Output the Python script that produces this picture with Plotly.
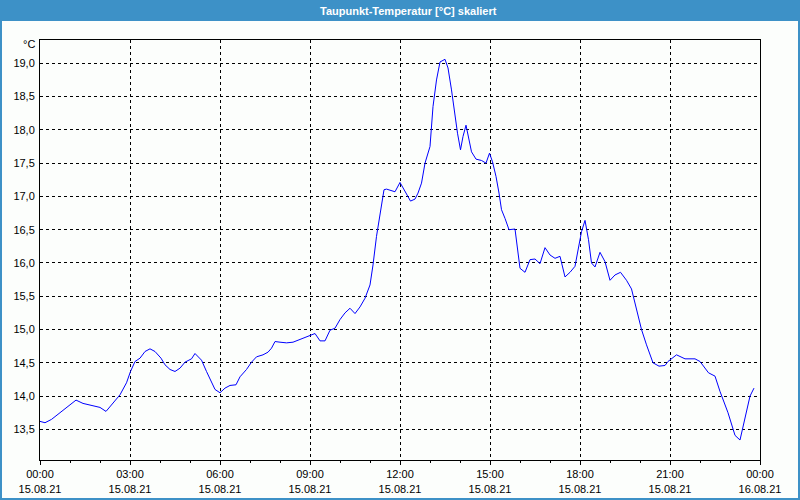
import plotly.graph_objects as go

# ---- data ----
day = "2021-08-15"
times = ["00:00","00:10","00:23","00:36","00:49","01:00","01:12","01:26","01:42","02:00",
         "02:12","02:23","02:40","02:53","03:01","03:10","03:20","03:30","03:40","03:50",
         "04:02","04:10","04:20","04:30","04:40","04:50","05:03","05:10","05:23","05:33",
         "05:40","05:50","06:00","06:10","06:20","06:32","06:40","06:53","07:03","07:13",
         "07:26","07:36","07:43","07:50","08:00","08:13","08:26","08:40","08:53","09:10",
         "09:20","09:30","09:40","09:50","10:00","10:10","10:20","10:30","10:40","10:50",
         "11:00","11:06","11:13","11:20","11:28","11:33","11:40","11:50","12:00","12:10",
         "12:21","12:30","12:36","12:43","12:50","13:00","13:06","13:13","13:20","13:30",
         "13:36","13:43","13:50","13:55","14:01","14:06","14:12","14:17","14:23","14:32",
         "14:43","14:52","14:59","15:05","15:12","15:18","15:23","15:30","15:38","15:50",
         "15:55","16:00","16:10","16:20","16:30","16:40","16:50","17:00","17:10","17:20",
         "17:30","17:40","17:50","17:56","18:03","18:10","18:17","18:23","18:30","18:40",
         "18:50","19:00","19:10","19:21","19:33","19:43","19:53","20:03","20:13","20:26",
         "20:38","20:50","20:56","21:13","21:30","21:50","22:00","22:17","22:30","22:40",
         "22:56","23:10","23:20","23:30","23:40","23:48"]
values = [13.62,13.60,13.65,13.73,13.80,13.88,13.94,13.89,13.86,13.83,
          13.77,13.87,14.02,14.20,14.37,14.52,14.57,14.67,14.71,14.67,
          14.57,14.47,14.40,14.37,14.42,14.51,14.56,14.64,14.54,14.37,
          14.25,14.10,14.05,14.12,14.16,14.17,14.29,14.40,14.51,14.59,
          14.62,14.66,14.72,14.82,14.81,14.80,14.81,14.85,14.88,14.94,
          14.83,14.83,14.99,15.02,15.15,15.25,15.32,15.24,15.34,15.47,
          15.67,15.97,16.40,16.75,17.10,17.11,17.09,17.07,17.21,17.07,
          16.93,16.96,17.05,17.20,17.50,17.75,18.35,18.75,19.02,19.06,
          18.93,18.60,18.20,17.95,17.70,17.90,18.07,17.90,17.67,17.56,
          17.54,17.50,17.65,17.52,17.30,17.05,16.80,16.67,16.50,16.51,
          16.25,15.92,15.86,16.05,16.06,15.99,16.23,16.12,16.07,16.10,
          15.79,15.86,15.95,16.20,16.47,16.64,16.35,16.00,15.94,16.16,
          16.02,15.74,15.82,15.86,15.74,15.61,15.30,15.00,14.77,14.50,
          14.45,14.46,14.52,14.62,14.56,14.56,14.52,14.35,14.30,14.07,
          13.75,13.41,13.34,13.65,14.00,14.12]

x_tick_vals = ["2021-08-15 00:00","2021-08-15 03:00","2021-08-15 06:00","2021-08-15 09:00",
               "2021-08-15 12:00","2021-08-15 15:00","2021-08-15 18:00","2021-08-15 21:00",
               "2021-08-16 00:00"]
x_tick_text = ["00:00<br>15.08.21","03:00<br>15.08.21","06:00<br>15.08.21","09:00<br>15.08.21",
               "12:00<br>15.08.21","15:00<br>15.08.21","18:00<br>15.08.21","21:00<br>15.08.21",
               "00:00<br>16.08.21"]
y_tick_vals = [13.5,14.0,14.5,15.0,15.5,16.0,16.5,17.0,17.5,18.0,18.5,19.0]
y_tick_text = ["13,5","14,0","14,5","15,0","15,5","16,0","16,5","17,0","17,5","18,0","18,5","19,0"]

title_text = "Taupunkt-Temperatur [°C] skaliert"
unit_text = "°C"

# ---- figure ----
x = [f"{day} {t}" for t in times]

W, H = 800, 500
L, R, T, B = 40, 40, 40, 40
pw, ph = W - L - R, H - T - B

def px_x(p):
    return (p - L) / pw

def px_y(p):
    return 1 - (p - T) / ph

BLUE = "#3d91c7"
FONT = "Liberation Sans"

fig = go.Figure()
fig.add_trace(go.Scatter(x=x, y=values, mode="lines",
                         line=dict(color="#0000ff", width=1), hoverinfo="x+y"))

fig.update_layout(
    width=W, height=H,
    margin=dict(l=L, r=R, t=T, b=B, autoexpand=False),
    paper_bgcolor="#fcfefc",
    plot_bgcolor="#fcfefc",
    showlegend=False,
    font=dict(family=FONT, size=11, color="#000000"),
    xaxis=dict(
        type="date", automargin=False,
        range=["2021-08-15 00:00", "2021-08-16 00:00"],
        tickmode="array", tickvals=x_tick_vals, ticktext=x_tick_text,
        ticks="outside", ticklen=4, tickcolor="#000000", tickwidth=1,
        minor=dict(tickmode="linear", tick0="2021-08-15 00:00", dtick=3600000,
                   ticks="outside", ticklen=2, tickcolor="#000000", showgrid=False),
        showgrid=True, gridcolor="#000000", gridwidth=1, griddash="3px,3px",
        showline=True, linecolor="#000000", linewidth=1, mirror=True,
        zeroline=False, tickfont=dict(family=FONT, size=11),
    ),
    yaxis=dict(
        automargin=False,
        range=[13.04, 19.35],
        tickmode="array", tickvals=y_tick_vals, ticktext=y_tick_text,
        ticks="", showgrid=True, gridcolor="#000000", gridwidth=1, griddash="3px,3px",
        showline=True, linecolor="#000000", linewidth=1, mirror=True,
        zeroline=False, tickfont=dict(family=FONT, size=11),
        ticklabelstandoff=2,
    ),
    shapes=[
        dict(type="rect", xref="paper", yref="paper", layer="below",
             x0=px_x(0), x1=px_x(W), y0=px_y(0), y1=px_y(21),
             fillcolor=BLUE, line=dict(width=0)),
        dict(type="rect", xref="paper", yref="paper", layer="below",
             x0=px_x(1), x1=px_x(W - 1), y0=px_y(H - 1), y1=px_y(1),
             fillcolor="rgba(0,0,0,0)", line=dict(color=BLUE, width=2)),
    ],
    annotations=[
        dict(text="<b>" + title_text + "</b>", xref="paper", yref="paper",
             x=px_x(408), y=px_y(11), xanchor="center", yanchor="middle",
             showarrow=False, font=dict(family=FONT, size=11, color="#ffffff")),
        dict(text=unit_text, xref="paper", yref="paper",
             x=px_x(37), y=px_y(44), xanchor="right", yanchor="middle",
             showarrow=False, font=dict(family=FONT, size=11, color="#000000")),
    ],
)

fig.write_html("out.html",
               config={"displayModeBar": False},
               post_script="document.body.style.margin='0';document.body.style.overflow='hidden';")
